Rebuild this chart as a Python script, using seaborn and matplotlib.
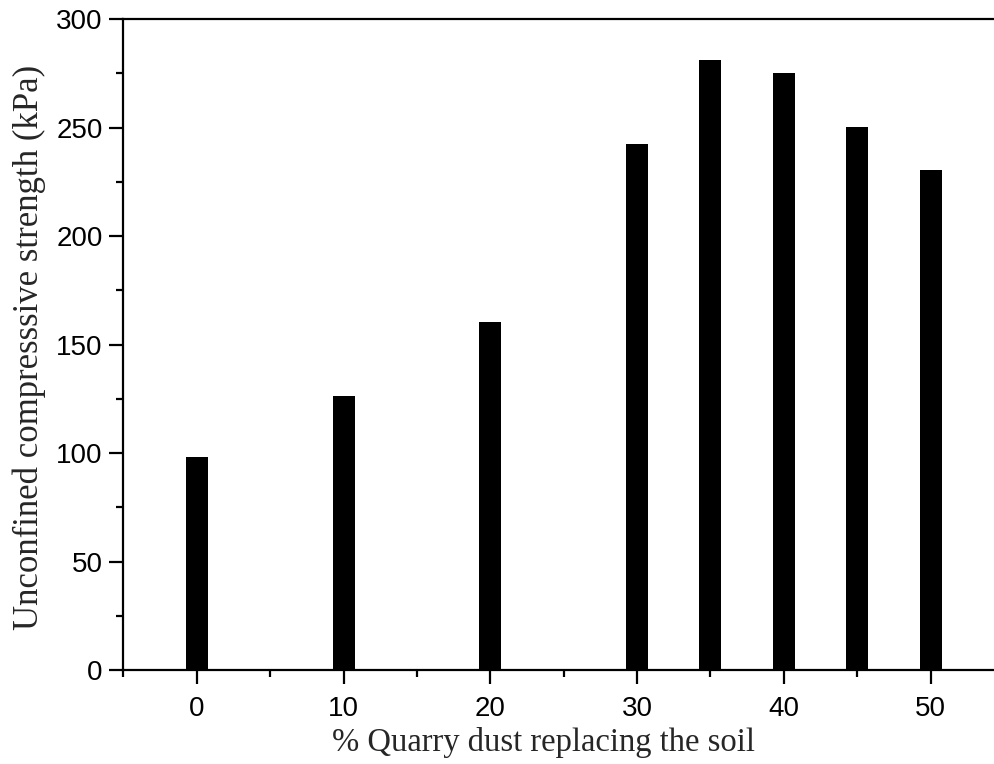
import matplotlib
matplotlib.use("Agg")
import matplotlib.pyplot as plt
import seaborn as sns
import pandas as pd
from matplotlib.ticker import MultipleLocator

quarry_dust = [0, 10, 20, 30, 35, 40, 45, 50]
ucs_kpa = [98, 126.4, 160.5, 242.3, 281.3, 275.3, 250.1, 230.3]
y_ticks = [0, 50, 100, 150, 200, 250, 300]
x_ticks = [0, 10, 20, 30, 40, 50]

df = pd.DataFrame({"dust": quarry_dust, "ucs": ucs_kpa})

sns.set_style("ticks")
plt.rcParams["font.family"] = ["Liberation Sans", "DejaVu Sans"]
fig = plt.figure(figsize=(9.95, 7.64), dpi=100)
ax = fig.add_axes([0.124, 0.123, 0.885, 0.852])

sns.barplot(data=df, x="dust", y="ucs", native_scale=True, width=0.3,
            color="black", edgecolor="black", linewidth=0, saturation=1,
            ax=ax, errorbar=None)

ax.set_xlim(-5, 55)
ax.set_ylim(0, 300)
ax.set_xticks(x_ticks)
ax.set_yticks(y_ticks)
ax.xaxis.set_minor_locator(MultipleLocator(5))
ax.yaxis.set_minor_locator(MultipleLocator(25))

for s in ax.spines.values():
    s.set_visible(True)
    s.set_linewidth(1.6)
    s.set_color("black")

ax.tick_params(which="major", direction="out", length=10, width=1.6,
               labelsize=20, colors="black", pad=5)
ax.tick_params(axis="x", which="major", pad=9)
ax.tick_params(which="minor", direction="out", length=5, width=1.6, colors="black")
ax.tick_params(top=False, right=False, which="both")

ax.set_xlabel("% Quarry dust replacing the soil", family="Liberation Serif",
              fontsize=23.5)
ax.set_ylabel("Unconfined compresssive strength (kPa)", family="Liberation Serif",
              fontsize=25)
ax.xaxis.set_label_coords(0.477, -0.087)
ax.yaxis.set_label_coords(-0.088, 0.495)

fig.savefig("out.png", dpi=100)
